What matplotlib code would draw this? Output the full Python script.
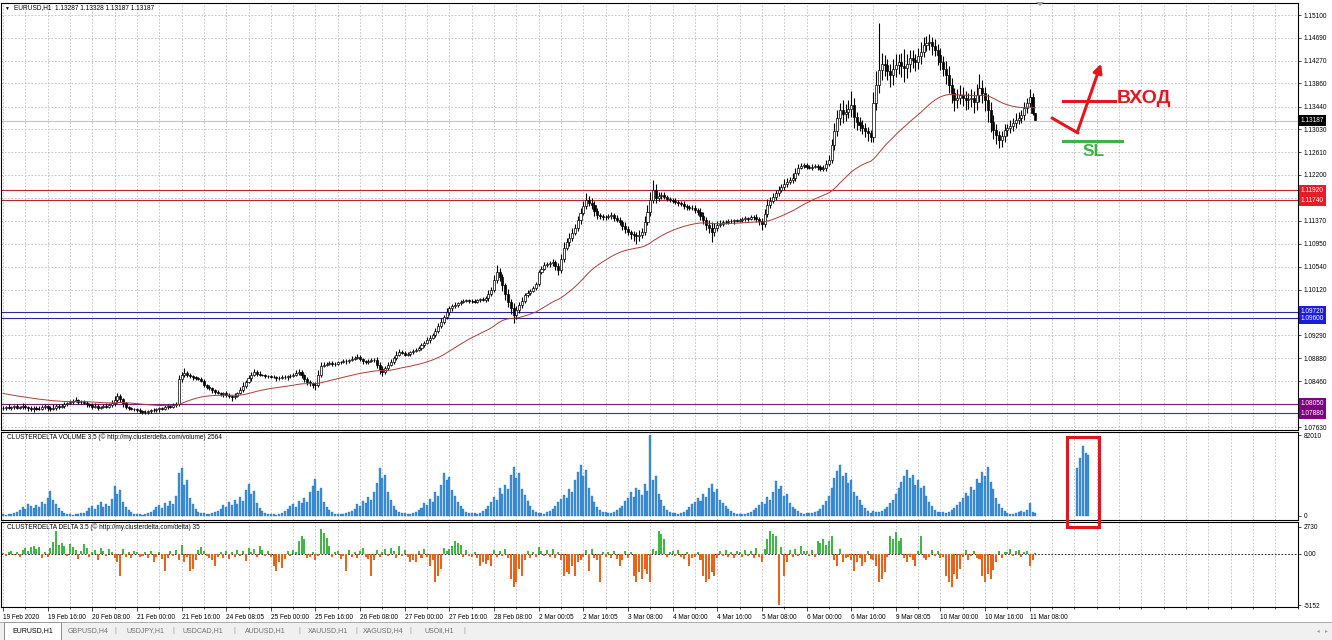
#!/usr/bin/python
# -*- coding: utf-8 -*-
"""
MT4 style EURUSD H1 screenshot: candles with an EMA, horizontal levels,
ClusterDelta volume and delta sub-windows and a hand drawn entry sketch.
"""
import numpy as np
import matplotlib
matplotlib.use('Agg')
from matplotlib import pyplot as plt
from matplotlib import transforms
from matplotlib.patches import Rectangle, FancyArrowPatch, Polygon

W, H = 1332, 640
plt.rcParams['font.family'] = ['Liberation Sans', 'DejaVu Sans']

# ---------------- data ----------------
# H1 closes in pips above 1.07000, one row per trading day (19 Feb .. 11 Mar 2020)
closePips = [
	98, 100, 97, 99, 101, 98, 99, 102, 100, 97, 95, 98, 96, 96, 99, 101, 97, 95, 98, 102, 99, 101, 104, 106,
	108, 110, 112, 109, 108, 107, 104, 103, 100, 102, 98, 99, 101, 100, 103, 106, 112, 119, 114, 106, 99, 97, 95, 96,
	94, 92, 91, 90, 92, 93, 94, 95, 97, 96, 99, 101, 100, 103, 105, 150, 157, 161, 158, 155, 153, 152, 150, 147,
	139, 136, 133, 130, 127, 125, 123, 124, 121, 119, 117, 120, 124, 130, 138, 145, 152, 158, 163, 160, 158, 157, 155, 156,
	154, 153, 151, 152, 154, 153, 156, 155, 158, 161, 163, 157, 150, 145, 142, 140, 139, 158, 174, 176, 178, 179, 177, 178,
	180, 181, 183, 182, 185, 187, 188, 190, 186, 183, 181, 183, 184, 185, 176, 168, 163, 170, 176, 181, 188, 194, 199, 197,
	194, 196, 199, 201, 203, 207, 211, 215, 220, 225, 230, 238, 246, 253, 262, 272, 278, 282, 284, 287, 290, 292, 293, 291,
	292, 290, 293, 295, 294, 297, 305, 311, 330, 344, 335, 320, 305, 290, 278, 266, 275, 284, 292, 302, 306, 310, 315, 322,
	344, 350, 357, 359, 361, 362, 355, 348, 368, 388, 398, 406, 415, 424, 438, 451, 463, 475, 470, 466, 455, 447, 446, 444,
	444, 446, 447, 442, 438, 435, 428, 422, 417, 413, 411, 409, 412, 417, 435, 453, 475, 493, 478, 481, 484, 480, 477, 475,
	473, 471, 469, 467, 464, 462, 461, 460, 456, 453, 446, 438, 430, 424, 417, 424, 430, 432, 434, 435, 437, 436, 438, 437,
	439, 440, 442, 441, 443, 444, 440, 436, 431, 450, 466, 473, 480, 487, 493, 498, 504, 508, 511, 514, 524, 533, 536, 538,
	535, 533, 535, 536, 534, 531, 533, 540, 547, 574, 600, 623, 638, 630, 634, 640, 647, 625, 616, 611, 605, 600, 596, 589,
	650, 683, 710, 722, 719, 708, 701, 712, 719, 725, 718, 714, 722, 732, 728, 725, 735, 743, 756, 760, 761, 754, 747, 738,
	725, 712, 701, 683, 668, 656, 660, 665, 660, 656, 658, 660, 652, 665, 678, 668, 656, 638, 616, 602, 592, 583, 590, 601,
	605, 609, 614, 620, 624, 629, 641, 650, 661, 633, 619,
]
firstOpenPips = 97
wickUpPips = [
	3, 2, 4, 3, 2, 3, 2, 5, 3, 2, 4, 3, 3, 5, 4, 3, 2, 4, 6, 3, 2, 3, 4, 3,
	4, 3, 5, 2, 3, 4, 3, 2, 3, 4, 3, 2, 3, 5, 4, 6, 8, 5, 3, 2, 3, 2, 3, 2,
	2, 3, 2, 3, 2, 3, 4, 2, 3, 2, 4, 3, 2, 3, 4, 8, 6, 9, 4, 3, 2, 3, 2, 3,
	3, 2, 4, 3, 2, 3, 2, 3, 4, 3, 2, 4, 3, 5, 6, 4, 5, 4, 6, 3, 4, 2, 3, 2,
	2, 3, 2, 3, 4, 3, 2, 4, 3, 5, 6, 4, 3, 4, 3, 2, 4, 8, 6, 5, 3, 4, 3, 2,
	3, 2, 4, 3, 2, 4, 3, 5, 4, 3, 2, 3, 4, 3, 5, 4, 6, 3, 4, 5, 4, 6, 5, 3,
	4, 3, 2, 3, 4, 3, 5, 4, 6, 5, 4, 5, 6, 7, 5, 6, 5, 4, 6, 3, 4, 3, 2, 3,
	3, 4, 3, 2, 3, 4, 6, 5, 8, 12, 7, 6, 5, 8, 6, 9, 7, 5, 6, 4, 5, 4, 3, 4,
	4, 5, 6, 4, 3, 5, 4, 6, 8, 10, 7, 8, 9, 8, 7, 10, 9, 12, 7, 8, 6, 5, 4, 3,
	4, 3, 5, 4, 6, 5, 4, 6, 5, 4, 6, 5, 8, 7, 10, 12, 15, 18, 10, 8, 6, 5, 4, 3,
	4, 5, 3, 4, 5, 4, 3, 4, 6, 5, 7, 6, 5, 8, 10, 9, 7, 6, 5, 4, 3, 4, 3, 2,
	3, 4, 3, 2, 4, 3, 5, 4, 6, 8, 10, 7, 8, 6, 7, 6, 8, 7, 6, 9, 8, 7, 5, 4,
	4, 3, 5, 4, 3, 4, 5, 8, 10, 12, 15, 14, 12, 18, 15, 16, 25, 12, 10, 9, 8, 10, 7, 6,
	20, 25, 85, 20, 15, 12, 14, 18, 20, 15, 16, 30, 18, 15, 14, 12, 16, 18, 14, 12, 15, 10, 12, 10,
	12, 10, 14, 16, 12, 10, 15, 18, 14, 12, 10, 16, 12, 20, 25, 14, 12, 10, 14, 12, 10, 8, 10, 12,
	8, 10, 9, 12, 10, 8, 12, 10, 14, 8, 0,
]
wickDownPips = [
	3, 4, 2, 3, 4, 2, 3, 3, 4, 5, 3, 4, 3, 2, 3, 4, 5, 3, 2, 4, 3, 2, 3, 2,
	2, 3, 2, 4, 3, 2, 4, 3, 5, 3, 4, 3, 2, 3, 2, 3, 4, 6, 5, 6, 4, 3, 2, 3,
	3, 4, 5, 3, 4, 3, 2, 3, 4, 3, 2, 4, 3, 2, 3, 4, 5, 3, 4, 3, 4, 3, 2, 3,
	3, 4, 3, 5, 4, 3, 4, 5, 3, 4, 6, 4, 3, 2, 3, 4, 3, 5, 3, 4, 3, 2, 3, 4,
	3, 2, 4, 3, 2, 3, 4, 3, 2, 3, 4, 5, 6, 5, 4, 6, 8, 3, 4, 3, 2, 3, 4, 3,
	2, 3, 2, 4, 3, 2, 3, 2, 4, 5, 4, 3, 2, 4, 6, 8, 7, 4, 3, 2, 3, 4, 3, 2,
	3, 2, 4, 3, 2, 3, 4, 3, 2, 4, 3, 4, 5, 3, 4, 3, 5, 4, 3, 4, 3, 2, 3, 4,
	4, 3, 2, 4, 3, 4, 5, 4, 3, 6, 8, 10, 12, 9, 10, 15, 8, 6, 5, 4, 3, 4, 3, 4,
	3, 4, 3, 4, 5, 6, 8, 10, 6, 5, 4, 6, 5, 4, 5, 6, 4, 5, 6, 8, 9, 7, 6, 5,
	5, 4, 6, 5, 4, 6, 7, 8, 6, 9, 10, 15, 8, 6, 5, 6, 7, 5, 8, 6, 5, 4, 5, 4,
	4, 3, 5, 4, 6, 5, 4, 3, 5, 6, 8, 7, 10, 9, 18, 8, 6, 5, 4, 3, 4, 3, 4, 3,
	3, 4, 3, 4, 3, 4, 5, 6, 10, 5, 6, 5, 4, 6, 5, 4, 6, 5, 4, 6, 5, 4, 3, 4,
	4, 3, 4, 3, 5, 4, 3, 5, 4, 6, 8, 10, 12, 15, 12, 10, 14, 20, 15, 12, 10, 12, 14, 10,
	10, 12, 15, 18, 20, 16, 22, 18, 14, 16, 20, 25, 18, 15, 14, 16, 12, 14, 10, 12, 14, 16, 12, 18,
	14, 12, 16, 15, 18, 20, 14, 12, 15, 18, 16, 14, 20, 15, 12, 18, 20, 22, 18, 16, 15, 14, 12, 10,
	10, 8, 10, 9, 8, 10, 9, 8, 6, 5, 0,
]
maStart = 1.0825   # moving average value at the first visible bar
maPeriod = 50

# ClusterDelta volume per bar, thousands
volumeK = [
	2, 1, 2, 2, 3, 4, 6, 9, 7, 12, 10, 8, 11, 9, 14, 12, 18, 25, 16, 12, 8, 5, 3, 2,
	2, 1, 2, 2, 3, 3, 5, 8, 10, 7, 11, 14, 9, 12, 10, 17, 30, 22, 26, 14, 9, 6, 4, 2,
	2, 2, 1, 2, 3, 4, 6, 9, 11, 8, 13, 10, 15, 12, 20, 44, 49, 31, 36, 18, 12, 7, 4, 3,
	3, 2, 2, 3, 4, 5, 7, 11, 9, 14, 11, 16, 12, 19, 15, 26, 32, 22, 25, 13, 8, 5, 3, 2,
	2, 2, 1, 2, 3, 5, 7, 10, 12, 9, 15, 13, 18, 14, 24, 30, 37, 25, 28, 14, 9, 6, 4, 2,
	2, 2, 2, 3, 4, 5, 7, 12, 10, 15, 13, 19, 16, 24, 33, 49, 38, 42, 24, 16, 10, 6, 4, 3,
	3, 2, 2, 3, 4, 6, 8, 13, 11, 17, 14, 24, 20, 31, 44, 36, 39, 26, 20, 14, 10, 7, 4, 3,
	3, 3, 2, 3, 5, 7, 10, 14, 19, 16, 28, 22, 31, 27, 42, 50, 38, 44, 27, 21, 15, 10, 6, 4,
	3, 3, 2, 4, 5, 7, 10, 14, 17, 21, 18, 27, 24, 36, 45, 52, 41, 47, 28, 20, 14, 9, 6, 4,
	4, 3, 3, 4, 6, 8, 10, 15, 18, 24, 19, 28, 26, 21, 32, 25, 82.01, 36, 41, 22, 16, 10, 6, 4,
	3, 3, 2, 3, 4, 6, 9, 12, 14, 18, 15, 22, 19, 28, 32, 24, 27, 16, 13, 10, 7, 5, 3, 2,
	2, 2, 2, 3, 4, 6, 8, 11, 14, 12, 19, 16, 24, 35, 27, 30, 20, 22, 13, 9, 7, 5, 3, 2,
	3, 3, 3, 4, 5, 7, 11, 15, 20, 28, 38, 46, 52, 40, 44, 33, 36, 24, 20, 16, 11, 8, 5, 3,
	5, 4, 4, 5, 7, 9, 13, 16, 22, 28, 34, 41, 47, 38, 42, 31, 36, 28, 30, 20, 14, 10, 6, 4,
	4, 4, 3, 4, 6, 8, 11, 14, 18, 23, 20, 29, 26, 37, 33, 45, 40, 50, 34, 27, 18, 12, 8, 5,
	3, 2, 2, 3, 4, 5, 4, 6, 13, 4, 2.564,
]
# ClusterDelta delta per bar
deltaValues = [
	100, -200, 150, 300, -100, 200, -300, 400, 600, 300, 700, 800, 500, 650, -400, 200, -300, 600, 1200, 2300, 900, 1100, 800, -200,
	1000, 700, 400, -500, 300, 1000, 600, -300, 200, 400, -600, 600, 300, -200, 500, 200, -400, -800, -2200, 500, -300, 200, -400, 300,
	200, -300, -200, 150, -400, 300, -800, -300, 200, -500, -1700, -400, 300, -200, 400, -600, 900, -800, -300, -1700, -1500, -600, 400, 700,
	300, -200, -400, -600, -1200, -300, 200, -400, 300, -500, 200, -300, 400, -200, 300, -700, 600, 200, 500, -300, 800, 400, -200, 300,
	-300, -1200, -1700, -800, -1400, -500, 300, -200, 400, 200, 1300, 1800, 1500, -400, -300, 200, -600, -200, 2500, 2100, 1600, 800, -300, 200,
	300, -500, -200, -1700, 400, -300, 200, -400, 300, 600, -300, -500, -2200, -600, 400, -300, 200, 500, -200, 600, 300, -400, 800, -200,
	400, -300, -800, -600, -800, 300, -400, 500, -300, -1200, -600, -2800, -2200, -1500, 600, 300, 500, 800, 1300, 1100, 900, -300, 400, -200,
	-300, 200, -400, -1200, -800, -1000, -600, -1200, 400, -300, 300, -200, 500, -400, -2500, -3300, -2800, -1500, -2200, -600, 300, -400, 200, -300,
	700, 300, -200, 400, -300, 500, -400, 200, -600, -2200, -1800, -2000, -1200, -2200, -800, -600, -300, 400, -1700, 500, -400, -600, -2800, 200,
	-300, 200, -400, 300, -500, -1200, -600, 300, -400, 200, -2200, -2800, -1800, -2500, -1500, -2000, -2800, 500, 300, 2300, 2000, 1500, -300, 200,
	300, -200, 400, -300, -500, 200, -1200, -400, -300, 200, -600, -2200, -2800, -2500, -1800, -2200, -400, 300, -200, 400, -300, 200, -400, 300,
	200, -300, 400, -200, 300, -400, 600, -300, -800, 500, 1500, 2300, 2000, 1800, -5152, 700, -2200, -800, 400, -300, 500, -200, 800, 300,
	300, -200, 400, -300, 1300, 1100, 1500, 900, 1300, 1800, -600, -1200, 500, -800, -400, -300, -600, -1700, -800, -400, -1200, -800, 300, -500,
	-600, -1200, -2800, -2500, -1800, -300, 1800, 1500, 2200, 1300, 1600, -400, -800, -300, -600, -1200, 300, 1800, -400, -600, -300, 400, -200, 300,
	-400, -300, -2200, -2800, -3300, -2000, -2500, -1500, -300, 400, -600, -200, 300, -400, -500, -2200, -2800, -2000, -2500, -1600, -800, 300, -400, 200,
	200, 500, -200, 300, 400, -300, 200, 300, -1200, -600, 35,
]
# pasted volume bars inside the red box (thousands)
boxVolumeK = [49, 59, 71, 64, 62]
boxFirstBar = 385

priceTicks = [1.15100, 1.14690, 1.14270, 1.13860, 1.13440, 1.13030, 1.12610, 1.12200, 1.11790, 1.11370,
			  1.10950, 1.10540, 1.10120, 1.09710, 1.09290, 1.08880, 1.08460, 1.08050, 1.07630]
hiddenTicks = [1.11790, 1.09710, 1.08050]   # covered by the level labels
levelPrices = [1.11920, 1.11740, 1.09720, 1.09600, 1.08050, 1.07880]
lastPrice = 1.13187
timeLabels = ['19 Feb 2020', '19 Feb 16:00', '20 Feb 08:00', '21 Feb 00:00', '21 Feb 16:00', '24 Feb 08:05',
			  '25 Feb 00:00', '25 Feb 16:00', '26 Feb 08:00', '27 Feb 00:00', '27 Feb 16:00', '28 Feb 08:00',
			  '2 Mar 00:05', '2 Mar 16:05', '3 Mar 08:00', '4 Mar 00:00', '4 Mar 16:00', '5 Mar 08:00',
			  '6 Mar 00:00', '6 Mar 16:00', '9 Mar 08:05', '10 Mar 00:00', '10 Mar 16:00', '11 Mar 08:00']
tabNames = ['EURUSD,H1', 'GBPUSD,H4', 'USDJPY,H1', 'USDCAD,H1', 'AUDUSD,H1', 'XAUUSD,H1', 'XAGUSD,H4', 'USOil,H1']

# ---------------- derived series ----------------
n = len(closePips)
assert len(wickUpPips) == n and len(wickDownPips) == n and len(volumeK) == n and len(deltaValues) == n
close = 1.07 + np.array(closePips) / 1e4
opens = np.r_[1.07 + firstOpenPips / 1e4, close[:-1]]
high = np.maximum(opens, close) + np.array(wickUpPips) / 1e4
low = np.minimum(opens, close) - np.array(wickDownPips) / 1e4
ma = np.empty(n)
k, prev = 2.0 / (maPeriod + 1), maStart
for i, c in enumerate(close):
	prev = prev + k * (c - prev)
	ma[i] = prev
bars = np.arange(n)

# ---------------- layout ----------------
FS = 4.7
GRID = dict(color='#bdbdbd', lw=0.6, ls=(0, (2, 2)), zorder=0)
XLIM = ((1 - 3) / 2.79, (1298 - 3) / 2.79)


def pxAxes(fig, x0, y0, x1, y1):
	return fig.add_axes([x0 / W, 1 - y1 / H, (x1 - x0) / W, (y1 - y0) / H])


def styleAxes(ax):
	ax.set_xlim(*XLIM)
	for s in ax.spines.values():
		s.set_color('black')
		s.set_linewidth(0.8)
	ax.yaxis.tick_right()
	ax.tick_params(axis='y', labelsize=FS, length=2.5, width=0.5, pad=1.5)
	ax.tick_params(axis='x', bottom=False, labelbottom=False)
	for g in np.arange(0, XLIM[1], 8):
		ax.axvline(g, **GRID)


fig = plt.figure(figsize=(W / 100, H / 100), dpi=100)
fig.patch.set_facecolor('white')

# main price window
ax = pxAxes(fig, 1, 3, 1298, 430)
styleAxes(ax)
ax.set_ylim(1.07576, 1.15318)
ax.set_yticks(priceTicks)
ax.set_yticklabels(['' if t in hiddenTicks else '%.5f' % t for t in priceTicks])
for t in priceTicks:
	ax.axhline(t, **GRID)
ax.axhline(lastPrice, color='#c4c4c4', lw=0.8, zorder=1)
levelColors = ['#b8282c', '#b8282c', '#2a2a9a', '#2a2a9a', '#7a1a7a', '#7a1a7a']
labelColors = ['#e41e24', '#e41e24', '#1c1ce0', '#1c1ce0', '#800080', '#800080']
rightBlend = transforms.blended_transform_factory(ax.transAxes, ax.transData)
for lvl, lc, bc in zip(levelPrices, levelColors, labelColors):
	ax.axhline(lvl, color=lc, lw=0.8, zorder=1)
	ax.text(1.0022, lvl, '%.5f' % lvl, transform=rightBlend, fontsize=FS, color='white', va='center', ha='left',
			clip_on=False, zorder=6, bbox=dict(boxstyle='square,pad=0.3', fc=bc, ec='none'))
ax.text(1.0022, lastPrice, '%.5f' % lastPrice, transform=rightBlend, fontsize=FS, color='white', va='center',
		ha='left', clip_on=False, zorder=6, bbox=dict(boxstyle='square,pad=0.3', fc='black', ec='none'))

# candles
ax.vlines(bars, low, high, color='black', lw=0.8, zorder=3)
bodyH = np.maximum(np.abs(close - opens), 0.00004)
bodyColors = ['white' if c >= o else 'black' for o, c in zip(opens, close)]
ax.bar(bars, bodyH, bottom=np.minimum(opens, close), width=0.74, color=bodyColors, edgecolor='black',
	   linewidth=0.5, zorder=4)
ax.plot(bars, ma, color='#b03a3a', lw=0.7, zorder=5)

# volume window
volAx = pxAxes(fig, 1, 432, 1298, 520)
styleAxes(volAx)
volAx.set_ylim(-4050, 85050)
volAx.set_yticks([0, 82010])
volAx.set_yticklabels(['0', '82010'])
volAx.bar(bars, np.array(volumeK) * 1000, width=0.72, color='#3b8fd9', edgecolor='#2a74b8', linewidth=0.25, zorder=3)
volAx.bar(np.arange(boxFirstBar, boxFirstBar + len(boxVolumeK)), np.array(boxVolumeK) * 1000, width=0.72,
		  color='#3b8fd9', edgecolor='#2a74b8', linewidth=0.25, zorder=3)
volAx.text(6 / 1297, 1 - 5 / 88, 'CLUSTERDELTA VOLUME 3.5 (\u00a9 http://my.clusterdelta.com/volume) 2564',
		   transform=volAx.transAxes, fontsize=FS, va='center', ha='left', zorder=6)

# delta window
dAx = pxAxes(fig, 1, 522, 1298, 607)
styleAxes(dAx)
dAx.set_ylim(-5353, 3203)
dAx.set_yticks([-5152, 0, 2730])
dAx.set_yticklabels(['-5152', '0.00', '2730'])
dAx.axhline(0, color='black', lw=0.6, ls=(0, (2, 2)), zorder=1)
deltaArr = np.array(deltaValues)
dAx.bar(bars, deltaArr, width=0.72, color=np.where(deltaArr >= 0, '#41b844', '#e8641c').tolist(), zorder=3)
dAx.text(6 / 1297, 1 - 5 / 85, 'CLUSTERDELTA DELTA 3.5 (\u00a9 http://my.clusterdelta.com/delta) 35',
		 transform=dAx.transAxes, fontsize=FS, va='center', ha='left', zorder=6)
dAx.set_xticks(np.arange(0, 16 * len(timeLabels), 16))
dAx.set_xticklabels(timeLabels)
dAx.set_xticks(np.arange(8, XLIM[1], 8), minor=True)
dAx.tick_params(axis='x', which='both', bottom=True, labelbottom=True, direction='out', labelsize=FS, pad=2,
				width=0.5)
dAx.tick_params(axis='x', which='major', length=3)
dAx.tick_params(axis='x', which='minor', length=1.5)
for lbl in dAx.get_xticklabels():
	lbl.set_horizontalalignment('left')

# header
fig.text(4 / W, 1 - 8 / H, '\u25bc', fontsize=3.5, va='center', ha='left')
fig.text(14 / W, 1 - 8 / H, 'EURUSD,H1  1.13287 1.13328 1.13187 1.13187', fontsize=FS, va='center', ha='left')

# overlay in pixel coordinates: drawing, tab bar
ov = fig.add_axes([0, 0, 1, 1], zorder=10)
ov.set_xlim(0, W)
ov.set_ylim(H, 0)
ov.axis('off')
ov.patch.set_alpha(0)
red, green = '#e3161e', '#3cb448'
ov.plot([1052, 1078], [118, 133], color=red, lw=2.2, solid_capstyle='round')
ov.add_patch(FancyArrowPatch((1077, 133), (1102, 61), arrowstyle='-|>', mutation_scale=13, lw=2.2, color=red))
ov.plot([1063, 1115], [101, 101], color=red, lw=2.2)
ov.text(1117, 98.5, '\u0412\u0425\u041e\u0414', color=red, fontsize=14, fontweight='bold', va='center', ha='left')
ov.plot([1063, 1122], [141, 141], color=green, lw=2.2)
ov.text(1094, 152, 'SL', color=green, fontsize=12.5, fontweight='bold', va='center', ha='center')
ov.add_patch(Rectangle((1067, 436.5), 31.5, 90, fill=False, ec=red, lw=2.2))
ov.add_patch(Polygon([[1036, 2], [1044, 2], [1040, 6]], closed=True, fc='#a0a0a0', ec='none'))

ov.add_patch(Rectangle((0, 622), W, 18, fc='#f0f0f0', ec='none'))
ov.plot([0, W], [622, 622], color='#a0a0a0', lw=0.6)
ov.add_patch(Rectangle((4, 621.5), 57, 18, fc='white', ec='#7a7a7a', lw=0.6))
tabCenters = [33, 88, 145, 203, 265, 328, 383, 439]
tabSeps = [115, 173, 234, 299, 356, 410, 464]
for name, cx in zip(tabNames, tabCenters):
	ov.text(cx, 631, name, fontsize=FS + 0.3, va='center', ha='center', color='black' if cx == 33 else '#6e6e6e')
for sx in tabSeps:
	ov.text(sx, 631, '|', fontsize=FS + 0.6, va='center', ha='center', color='#9a9a9a')
ov.text(1318, 631, '\u25c2', fontsize=4, va='center', ha='center', color='#9a9a9a')
ov.text(1326, 631, '\u25b8', fontsize=4, va='center', ha='center', color='#9a9a9a')

fig.savefig('out.png', dpi=100, facecolor='white')
